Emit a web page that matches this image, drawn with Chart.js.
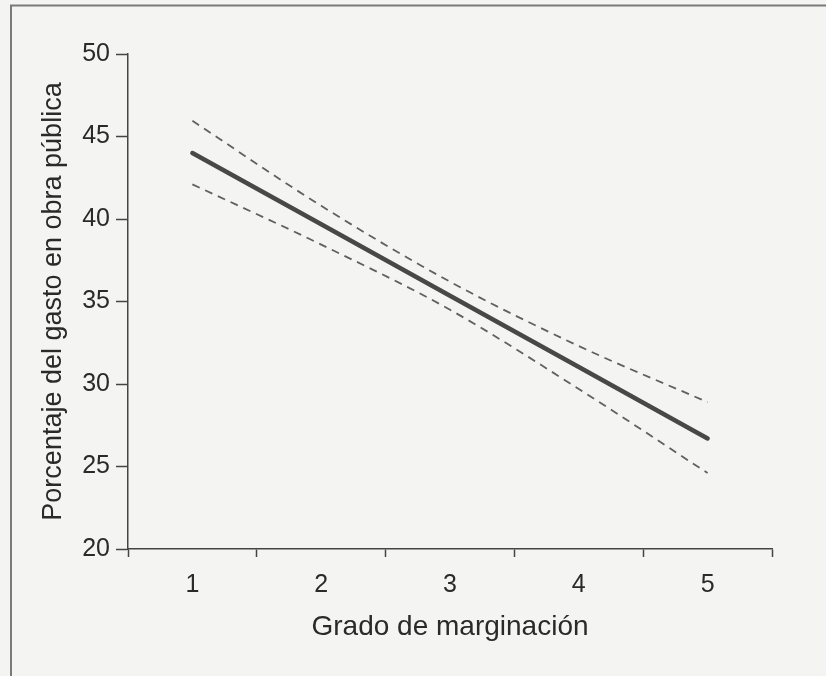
<!DOCTYPE html>
<html>
<head>
<meta charset="utf-8">
<script src="https://cdn.jsdelivr.net/npm/chart.js@4.4.0/dist/chart.umd.min.js"></script>
<style>
  html, body { margin: 0; padding: 0; background: #f4f4f3; }
  #wrap { position: relative; width: 826px; height: 676px; }
</style>
</head>
<body>
<div id="wrap"><canvas id="grafica" width="826" height="676"></canvas></div>
<script>
/* datos */
const grados = ['1', '2', '3', '4', '5'];
const ajuste = [44.0, 39.68, 35.35, 31.03, 26.7];
const limiteSup = [45.95, 40.8, 36.2, 32.3, 28.9];
const limiteInf = [42.1, 38.45, 34.5, 29.7, 24.6];
const ticksY = [20, 25, 30, 35, 40, 45, 50];

const gris = '#444';
const fuente = 'Liberation Sans, Arial, sans-serif';

// marco del recuadro escaneado
const marco = {
  id: 'marco',
  afterDraw(chart) {
    const ctx = chart.ctx;
    ctx.save();
    ctx.strokeStyle = '#7a7a7a';
    ctx.lineWidth = 2;
    ctx.beginPath();
    ctx.moveTo(11, 676);
    ctx.lineTo(11, 5.5);
    ctx.lineTo(826, 5.5);
    ctx.stroke();
    ctx.restore();
  }
};

const ctx = document.getElementById('grafica').getContext('2d');

new Chart(ctx, {
  type: 'line',
  data: {
    labels: grados,
    datasets: [
      {
        label: 'Ajuste',
        data: ajuste,
        borderColor: '#484848',
        borderWidth: 4.5,
        borderCapStyle: 'round',
        pointRadius: 0,
        fill: false
      },
      {
        label: 'Superior',
        data: limiteSup,
        borderColor: '#606060',
        borderWidth: 1.8,
        borderDash: [8, 6],
        cubicInterpolationMode: 'monotone',
        pointRadius: 0,
        fill: false
      },
      {
        label: 'Inferior',
        data: limiteInf,
        borderColor: '#606060',
        borderWidth: 1.8,
        borderDash: [8, 6],
        cubicInterpolationMode: 'monotone',
        pointRadius: 0,
        fill: false
      }
    ]
  },
  options: {
    responsive: false,
    animation: false,
    layout: {
      padding: { top: 54, right: 54, left: 0, bottom: 0 }
    },
    scales: {
      x: {
        type: 'category',
        offset: true,
        afterFit(scale) { scale.height = 127; },
        grid: {
          offset: true,
          drawOnChartArea: false,
          tickLength: 8,
          tickColor: gris,
          tickWidth: 1.5
        },
        border: { color: gris, width: 1.5 },
        ticks: {
          color: '#2a2a2a',
          padding: 13,
          font: { family: fuente, size: 25 }
        },
        title: {
          display: true,
          text: 'Grado de marginación',
          color: '#2a2a2a',
          padding: { top: 0, bottom: 32 },
          font: { family: fuente, size: 28 }
        }
      },
      y: {
        min: 20,
        max: 50,
        afterFit(scale) { scale.width = 128; },
        afterBuildTicks(scale) {
          scale.ticks = ticksY.map(v => ({ value: v }));
        },
        grid: {
          drawOnChartArea: false,
          tickLength: 12,
          tickColor: gris,
          tickWidth: 1.5
        },
        border: { color: gris, width: 1.5 },
        ticks: {
          color: '#2a2a2a',
          padding: 6,
          font: { family: fuente, size: 25 }
        },
        title: {
          display: true,
          text: 'Porcentaje del gasto en obra pública',
          color: '#2a2a2a',
          padding: { top: 37, bottom: 0 },
          font: { family: fuente, size: 27 }
        }
      }
    },
    plugins: {
      legend: { display: false },
      tooltip: { enabled: false }
    }
  },
  plugins: [marco]
});
</script>
</body>
</html>
